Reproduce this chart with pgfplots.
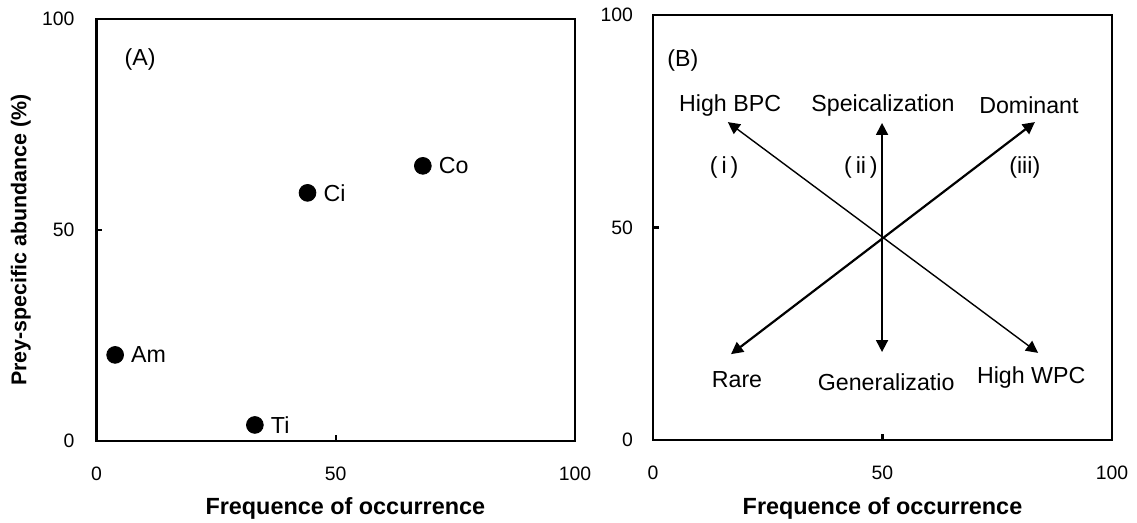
\documentclass[border=0pt]{standalone}
\usepackage{fontspec}
\setmainfont{Liberation Sans}
\usepackage{pgfplots}
\pgfplotsset{compat=1.18}
\usetikzlibrary{arrows.meta}

\tikzset{lbl/.style={font=\fontsize{11.6}{14}\selectfont}}
\pgfplotsset{
  panel/.style={
    scale only axis, clip=false,
    xmin=0, xmax=100, ymin=0, ymax=100,
    xtick={0,50,100}, ytick={0,50,100},
    tick align=inside, tick pos=left, major tick length=3pt,
    axis line style={line width=1.4pt},
    tick style={line width=1.2pt, black},
    /pgf/number format/assume math mode=true,
    ticklabel style={font=\fontsize{9.7}{11}\selectfont},
    xticklabel style={anchor=center, yshift=-16.5pt},
    xlabel={Frequence of occurrence},
    xlabel style={font=\fontsize{11.7}{14}\selectfont\bfseries, anchor=center},
  },
}

\begin{document}
\begin{tikzpicture}

% (A) observed prey
\begin{axis}[panel, name=A, at={(0pt,0pt)}, anchor=south west,
  width=239.25pt, height=211pt,
  yticklabel style={xshift=-7.5pt},
  xlabel style={at={(axis description cs:0.52,-0.161)}},
  ylabel={Prey-specific abundance (\%)},
  ylabel style={font=\fontsize{10.7}{13}\selectfont\bfseries, at={(axis description cs:-0.158,0.476)}, anchor=center}]
\addplot[only marks, mark=*, mark size=4.2pt, black,
  nodes near coords, point meta=explicit symbolic,
  every node near coord/.append style={anchor=west, xshift=4.5pt, lbl}]
  table[meta=label] {
x    y    label
3.9  20.4 Am
33.1 3.8  Ti
44.1 58.8 Ci
68.2 65.2 Co
};
\node[lbl] at (axis cs:9.1,90.3) {(A)};
\end{axis}

% (B) interpretation diagram
\begin{axis}[panel, name=B, at={(278.25pt,0.5pt)}, anchor=south west,
  width=229.5pt, height=212.5pt,
  yticklabel style={xshift=-6.5pt},
  xlabel style={at={(axis description cs:0.5,-0.16)}}]
\addplot[black, line width=0.7pt, {Triangle[length=6pt,width=6pt]}-{Triangle[length=6pt,width=6pt]}]
  coordinates {(16.3,74.8) (83.9,20.5)};
\addplot[black, line width=1.1pt, {Triangle[length=6pt,width=6pt]}-{Triangle[length=6pt,width=6pt]}]
  coordinates {(17.0,20.2) (83.2,74.8)};
\addplot[black, line width=0.9pt, {Triangle[length=6pt,width=6pt]}-{Triangle[length=6pt,width=6pt]}]
  coordinates {(49.9,74.6) (49.9,20.7)};
\node[lbl] at (axis cs:6.5,89.4) {(B)};
\node[lbl] at (axis cs:16.8,78.8) {High BPC};
\node[lbl] at (axis cs:50.1,78.8) {Speicalization};
\node[lbl] at (axis cs:81.9,78.8) {Dominant};
\node[lbl] at (axis cs:15.5,64) {(\,i\,)};
\node[lbl] at (axis cs:45.3,64) {(\,ii\,)};
\node[lbl] at (axis cs:81.0,64) {(iii)};
\node[lbl] at (axis cs:18.3,14.1) {Rare};
\node[lbl] at (axis cs:50.8,13.6) {Generalizatio};
\node[lbl] at (axis cs:82.4,14.6) {High WPC};
\end{axis}

\pgfresetboundingbox
\path[use as bounding box] (-48.25pt,-41pt) rectangle (520.25pt,220.5pt);
\end{tikzpicture}
\end{document}
